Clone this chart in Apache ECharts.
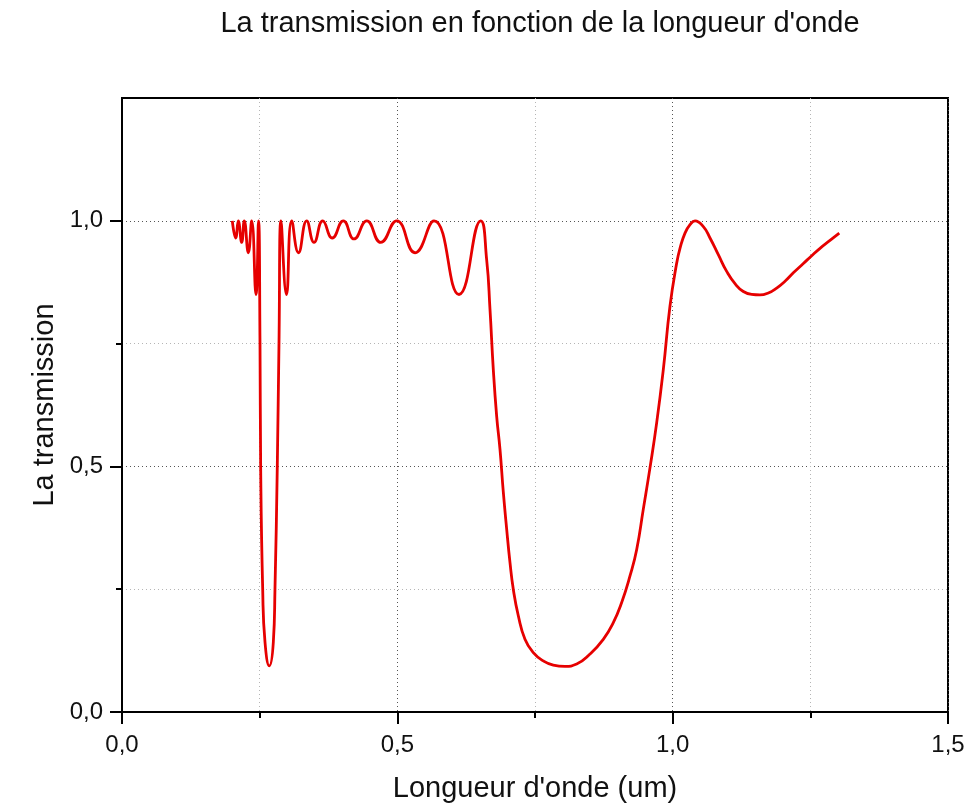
<!DOCTYPE html>
<html>
<head>
<meta charset="utf-8">
<script src="https://cdn.jsdelivr.net/npm/echarts@6/dist/echarts.min.js"></script>
<style>
  html, body { margin: 0; padding: 0; background: #fff; }
  #chart { width: 968px; height: 808px; }
</style>
</head>
<body>
<div id="chart"></div>
<script>
// Wavelength (um)
const wavelength = [
  0.2003, 0.2065, 0.2112, 0.2174, 0.2221, 0.2294, 0.2355, 0.2433, 0.2479,
  0.2506, 0.2518, 0.2555, 0.2597, 0.2675, 0.2748, 0.2778, 0.2820, 0.2851, 0.2887,
  0.2987, 0.3082, 0.3205, 0.3354, 0.3487, 0.3645, 0.3819, 0.4019, 0.4213, 0.4444,
  0.4698, 0.4988, 0.5321, 0.5666, 0.6120, 0.6514,
  0.6622, 0.6683, 0.6743, 0.6804, 0.6864, 0.6925, 0.6986, 0.7046, 0.7106, 0.7197,
  0.7318, 0.7469, 0.7651, 0.7832, 0.8045, 0.8257, 0.8499, 0.8740, 0.8922, 0.9074,
  0.9225, 0.9347, 0.9467, 0.9588, 0.9710, 0.9830, 0.9951, 1.0073, 1.0133,
  1.0224, 1.0315, 1.0406, 1.0557, 1.0678, 1.0829, 1.0981, 1.1132, 1.1283, 1.1435,
  1.1586, 1.1737, 1.1889, 1.2040, 1.2191, 1.2373, 1.2525, 1.2676, 1.2857, 1.3026
];
// Transmission
const transmission = [
  1.0, 0.965, 1.0, 0.956, 1.0, 0.935, 1.0, 0.85, 1.0,
  0.752, 0.50, 0.25, 0.142, 0.094, 0.142, 0.25, 0.50, 0.752, 1.0,
  0.85, 1.0, 0.935, 1.0, 0.956, 1.0, 0.965, 1.0, 0.963, 1.0,
  0.956, 1.0, 0.935, 1.0, 0.85, 1.0,
  0.921, 0.819, 0.697, 0.602, 0.535, 0.447, 0.372, 0.304, 0.25, 0.196,
  0.148, 0.121, 0.104, 0.0955, 0.093, 0.0976, 0.118, 0.148, 0.182, 0.223,
  0.277, 0.331, 0.413, 0.497, 0.589, 0.697, 0.826, 0.914, 0.944,
  0.975, 0.992, 1.0, 0.988, 0.965, 0.931, 0.897, 0.872, 0.856, 0.850,
  0.849, 0.853, 0.863, 0.877, 0.894, 0.913, 0.929, 0.944, 0.960, 0.975
];
const xTickLabels = [0, 0.5, 1.0, 1.5];
const yTickLabels = [0, 0.5, 1.0];

const fmt = v => v.toFixed(1).replace('.', ',');
const FONT = '"Liberation Sans", Arial, sans-serif';

const chart = echarts.init(document.getElementById('chart'), null, { renderer: 'canvas' });
chart.setOption({
  animation: false,
  backgroundColor: '#ffffff',
  title: {
    text: "La transmission en fonction de la longueur d'onde",
    left: 535, textAlign: 'center', top: 4,
    textStyle: { fontFamily: FONT, fontSize: 29, fontWeight: 'normal', color: '#111' }
  },
  grid: {
    left: 122, right: 20, top: 98, bottom: 95,
    show: true, borderColor: '#000', borderWidth: 2, backgroundColor: 'transparent'
  },
  xAxis: {
    type: 'value', min: 0, max: 1.5, interval: 0.5,
    name: "Longueur d'onde (um)", nameLocation: 'middle', nameGap: 62, nameMoveOverlap: false,
    nameTextStyle: { fontFamily: FONT, fontSize: 29, color: '#111' },
    axisLine: { show: true, lineStyle: { color: '#000', width: 2 } },
    axisTick: { show: true, length: 12, inside: false, lineStyle: { color: '#000', width: 2 } },
    minorTick: { show: true, splitNumber: 2, length: 6, lineStyle: { color: '#000', width: 2 } },
    axisLabel: { customValues: xTickLabels, formatter: fmt, margin: 21, fontFamily: FONT, fontSize: 24, color: '#111' },
    splitLine: { show: true, lineStyle: { color: '#555', width: 1, type: [1, 3] } },
    minorSplitLine: { show: true, lineStyle: { color: '#b5b5b5', width: 1, type: [1, 3] } }
  },
  yAxis: {
    type: 'value', min: 0, max: 1.25, interval: 0.5,
    name: 'La transmission', nameLocation: 'middle', nameGap: 63, nameMoveOverlap: false,
    nameTextStyle: { fontFamily: FONT, fontSize: 29, color: '#111' },
    axisLine: { show: true, lineStyle: { color: '#000', width: 2 } },
    axisTick: { show: true, customValues: yTickLabels, length: 12, lineStyle: { color: '#000', width: 2 } },
    minorTick: { show: true, splitNumber: 2, length: 6, lineStyle: { color: '#000', width: 2 } },
    axisLabel: { customValues: yTickLabels, formatter: fmt, margin: 19, fontFamily: FONT, fontSize: 24, color: '#111' },
    splitLine: { show: true, lineStyle: { color: '#555', width: 1, type: [1, 3] } },
    minorSplitLine: { show: true, lineStyle: { color: '#b5b5b5', width: 1, type: [1, 3] } }
  },
  series: [{
    type: 'line',
    data: wavelength.map((x, i) => [x, transmission[i]]),
    showSymbol: false,
    smooth: 0.5,
    lineStyle: { color: '#e60000', width: 2.8 },
    itemStyle: { color: '#e60000' }
  }]
});
</script>
</body>
</html>
